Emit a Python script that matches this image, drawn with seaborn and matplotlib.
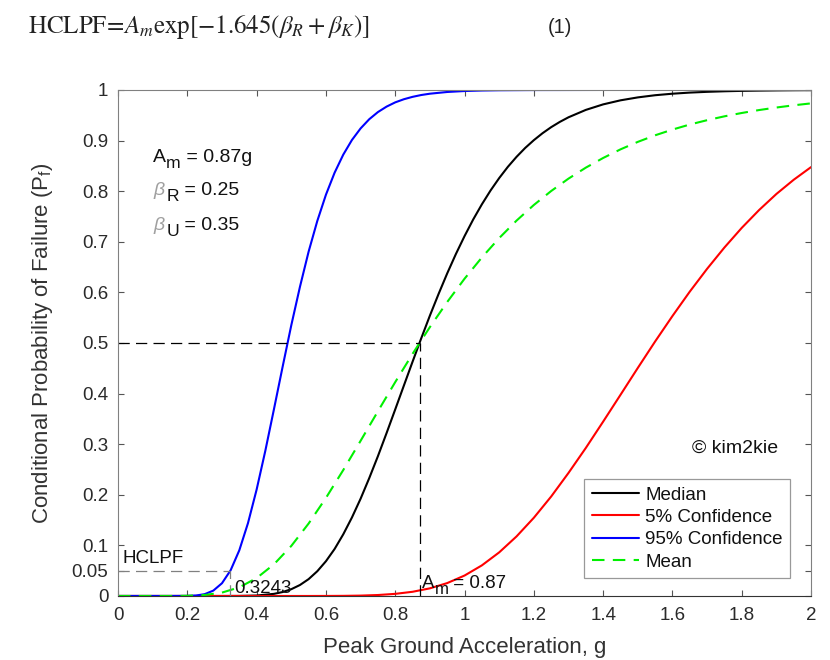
import matplotlib
matplotlib.use("Agg")
import matplotlib.pyplot as plt
from matplotlib.transforms import offset_copy
import seaborn as sns

# ---- data ----
x_median = [0, 0.05, 0.1, 0.15, 0.2, 0.25, 0.3, 0.35, 0.4, 0.45, 0.475, 0.5, 0.525, 0.55,
            0.575, 0.6, 0.625, 0.65, 0.675, 0.7, 0.725, 0.75, 0.775, 0.8, 0.825, 0.85, 0.875,
            0.9, 0.925, 0.95, 0.975, 1.0, 1.025, 1.05, 1.075, 1.1, 1.125, 1.15, 1.175, 1.2,
            1.225, 1.25, 1.275, 1.3, 1.35, 1.4, 1.45, 1.5, 1.55, 1.6, 1.65, 1.7, 1.75, 1.8,
            1.85, 1.9, 1.95, 2.0]
p_median = [0, 0, 0, 0, 0, 0, 0.00001, 0.00014, 0.00094, 0.0042, 0.0078, 0.0134, 0.0217,
            0.0333, 0.0489, 0.0687, 0.0929, 0.1219, 0.1551, 0.1922, 0.2330, 0.2763, 0.3220,
            0.3688, 0.4160, 0.4630, 0.5092, 0.5541, 0.5968, 0.6376, 0.6758, 0.7112, 0.7441,
            0.7740, 0.8013, 0.8259, 0.8481, 0.8678, 0.8854, 0.9008, 0.9145, 0.9265, 0.9369,
            0.9460, 0.9606, 0.9715, 0.9795, 0.9853, 0.9896, 0.9926, 0.9948, 0.9963, 0.9974,
            0.9982, 0.9987, 0.9991, 0.9994, 0.9996]

x_conf95 = [0, 0.05, 0.1, 0.15, 0.2, 0.225, 0.25, 0.275, 0.3, 0.325, 0.35, 0.375, 0.4, 0.425,
            0.45, 0.475, 0.5, 0.525, 0.55, 0.575, 0.6, 0.625, 0.65, 0.675, 0.7, 0.725, 0.75,
            0.775, 0.8, 0.825, 0.85, 0.875, 0.9, 0.95, 1.0, 1.05, 1.1, 1.2, 1.4, 1.6, 2.0]
p_conf95 = [0, 0, 0, 0, 0.00017, 0.00094, 0.0036, 0.0106, 0.0252, 0.0509, 0.0903, 0.1439,
            0.2104, 0.2867, 0.3692, 0.4530, 0.5350, 0.6110, 0.6805, 0.7410, 0.7930, 0.8365,
            0.8722, 0.9011, 0.9240, 0.9422, 0.9563, 0.9671, 0.9755, 0.9817, 0.9864, 0.9900,
            0.9926, 0.9960, 0.9979, 0.9989, 0.9994, 0.9998, 1.0, 1.0, 1.0]

x_conf5 = [0, 0.1, 0.2, 0.3, 0.4, 0.5, 0.55, 0.6, 0.65, 0.7, 0.75, 0.8, 0.85, 0.9, 0.95, 1.0,
           1.05, 1.1, 1.15, 1.2, 1.25, 1.3, 1.35, 1.4, 1.45, 1.5, 1.55, 1.6, 1.65, 1.7, 1.75,
           1.8, 1.85, 1.9, 1.95, 2.0]
p_conf5 = [0, 0, 0, 0, 0, 0, 0, 0.00008, 0.00026, 0.00075, 0.0019, 0.0042, 0.0083, 0.0151,
           0.0255, 0.0404, 0.0605, 0.0862, 0.1177, 0.1546, 0.1966, 0.2432, 0.2926, 0.3446,
           0.3975, 0.4507, 0.5030, 0.5533, 0.6015, 0.6466, 0.6887, 0.7275, 0.7627, 0.7945,
           0.8226, 0.8476]

x_mean = [0, 0.05, 0.1, 0.15, 0.2, 0.25, 0.3, 0.35, 0.4, 0.45, 0.5, 0.55, 0.6, 0.65, 0.7,
          0.75, 0.8, 0.85, 0.9, 0.95, 1.0, 1.05, 1.1, 1.15, 1.2, 1.25, 1.3, 1.35, 1.4, 1.45,
          1.5, 1.55, 1.6, 1.65, 1.7, 1.75, 1.8, 1.85, 1.9, 1.95, 2.0]
p_mean = [0, 0, 0, 0.00002, 0.0003, 0.0019, 0.0067, 0.0171, 0.0354, 0.0626, 0.0989, 0.1432,
          0.1938, 0.2489, 0.3066, 0.3650, 0.4227, 0.4785, 0.5314, 0.5810, 0.6270, 0.6690,
          0.7073, 0.7418, 0.7727, 0.8003, 0.8248, 0.8465, 0.8656, 0.8826, 0.8974, 0.9104,
          0.9217, 0.9317, 0.9403, 0.9479, 0.9545, 0.9603, 0.9653, 0.9697, 0.9735]

am = 0.87
hclpf = 0.3243
x_ticks = [0, 0.2, 0.4, 0.6, 0.8, 1, 1.2, 1.4, 1.6, 1.8, 2]
x_tick_labels = ["0", "0.2", "0.4", "0.6", "0.8", "1", "1.2", "1.4", "1.6", "1.8", "2"]
y_ticks = [0, 0.05, 0.1, 0.2, 0.3, 0.4, 0.5, 0.6, 0.7, 0.8, 0.9, 1]
y_tick_labels = ["0", "0.05", "0.1", "0.2", "0.3", "0.4", "0.5", "0.6", "0.7", "0.8", "0.9", "1"]
series_labels = ["Median", "5% Confidence", "95% Confidence", "Mean"]

# ---- style ----
sns.set_style("ticks")
plt.rcParams["font.family"] = ["Liberation Sans", "DejaVu Sans"]
plt.rcParams["mathtext.fontset"] = "custom"
plt.rcParams["mathtext.rm"] = "Liberation Sans"
plt.rcParams["mathtext.it"] = "Liberation Sans:italic"
plt.rcParams["mathtext.bf"] = "Liberation Sans:bold"

fig = plt.figure(figsize=(8.3, 6.6), dpi=100)
ax = fig.add_axes([0.1422, 0.097, 0.835, 0.7667])
renderer = fig.canvas.get_renderer()

lw = 1.5
sns.lineplot(x=x_median, y=p_median, color="#000000", lw=lw, ax=ax, label=series_labels[0])
sns.lineplot(x=x_conf5, y=p_conf5, color="#ff0000", lw=lw, ax=ax, label=series_labels[1])
sns.lineplot(x=x_conf95, y=p_conf95, color="#0000ff", lw=lw, ax=ax, label=series_labels[2])
sns.lineplot(x=x_mean, y=p_mean, color="#00f000", lw=lw, ax=ax, label=series_labels[3],
             linestyle=(0, (6, 4)))

# reference dashed lines
dash = (0, (9, 5))
ax.plot([0, am], [0.5, 0.5], color="black", lw=0.9, linestyle=dash)
ax.plot([am, am], [0, 0.5], color="black", lw=0.9, linestyle=dash)
ax.plot([0, hclpf], [0.05, 0.05], color="#808080", lw=0.9, linestyle=dash)
ax.plot([hclpf, hclpf], [0, 0.05], color="#808080", lw=0.9, linestyle=dash)

ax.set_xlim(0, 2)
ax.set_ylim(0, 1)
ax.set_xticks(x_ticks)
ax.set_xticklabels(x_tick_labels)
ax.set_yticks(y_ticks)
ax.set_yticklabels(y_tick_labels)
ax.tick_params(direction="in", top=True, right=True, length=4.5, width=0.8,
               colors="#555555", labelcolor="#2a2a2a", labelsize=13.5)
ax.tick_params(axis="x", pad=8)
ax.tick_params(axis="y", pad=7)
for s in ax.spines.values():
    s.set_visible(True)
    s.set_color("#808080")
    s.set_linewidth(0.8)
ax.spines["bottom"].set_color("#333333")

ax.set_xlabel("Peak Ground Acceleration, g", fontsize=16, color="#333333", labelpad=9)
ax.set_ylabel(r"Conditional Probability of Failure (P$_\mathrm{f}$)", fontsize=16,
              color="#333333", labelpad=12)


def seq_text(x, y, pieces):
    """Draw text pieces one after another; each piece is (text, size, dy_px, color)."""
    dx = 0.0
    for s, size, dy, color in pieces:
        tr = offset_copy(ax.transData, fig=fig, x=dx, y=dy, units="dots")
        t = ax.text(x, y, s, fontsize=size, color=color, va="baseline", ha="left",
                    transform=tr)
        dx += t.get_window_extent(renderer=renderer).width


fs = 14
seq_text(0.101, 0.858, [("A", fs, 0, "#111111"), ("m", fs * 0.9, -6, "#111111"),
                        (" = 0.87g", fs, 0, "#111111")])
seq_text(0.101, 0.792, [(r"$\beta$", fs, 0, "#a0a0a0"), ("R", fs * 0.9, -6, "#111111"),
                        (" = 0.25", fs, 0, "#111111")])
seq_text(0.101, 0.723, [(r"$\beta$", fs, 0, "#a0a0a0"), ("U", fs * 0.9, -6, "#111111"),
                        (" = 0.35", fs, 0, "#111111")])

ax.text(0.012, 0.065, "HCLPF", fontsize=13.5, va="baseline", ha="left", color="#111111")
ax.text(0.335, 0.006, "0.3243", fontsize=13.5, va="baseline", ha="left", color="#111111")
seq_text(0.877, 0.016, [("A", 13.5, 0, "#111111"), ("m", 13.5 * 0.9, -6, "#111111"),
                        (" = 0.87", 13.5, 0, "#111111")])
ax.text(1.905, 0.283, "\u00a9 kim2kie", fontsize=14, va="baseline", ha="right",
        color="#111111")

leg = ax.legend(loc="lower right", bbox_to_anchor=(0.97, 0.035), borderaxespad=0,
                fontsize=13.5, frameon=True, fancybox=False, handlelength=2.5,
                handletextpad=0.35, labelspacing=0.28, borderpad=0.4)
leg.get_frame().set_edgecolor("#808080")
leg.get_frame().set_linewidth(0.9)
for t in leg.get_texts():
    t.set_color("#111111")

# equation above the chart
fig.text(28 / 830, 1 - 33 / 660, r"$\mathrm{HCLPF}\!=\!A_m\mathrm{exp}[-1.645(\beta_R+\beta_K)]$",
         fontsize=18, math_fontfamily="stix", va="baseline", ha="left", color="#222222")
fig.text(548 / 830, 1 - 33 / 660, "(1)", fontsize=14.5, va="baseline", ha="left", color="#222222")

fig.savefig("out.png", dpi=100)
